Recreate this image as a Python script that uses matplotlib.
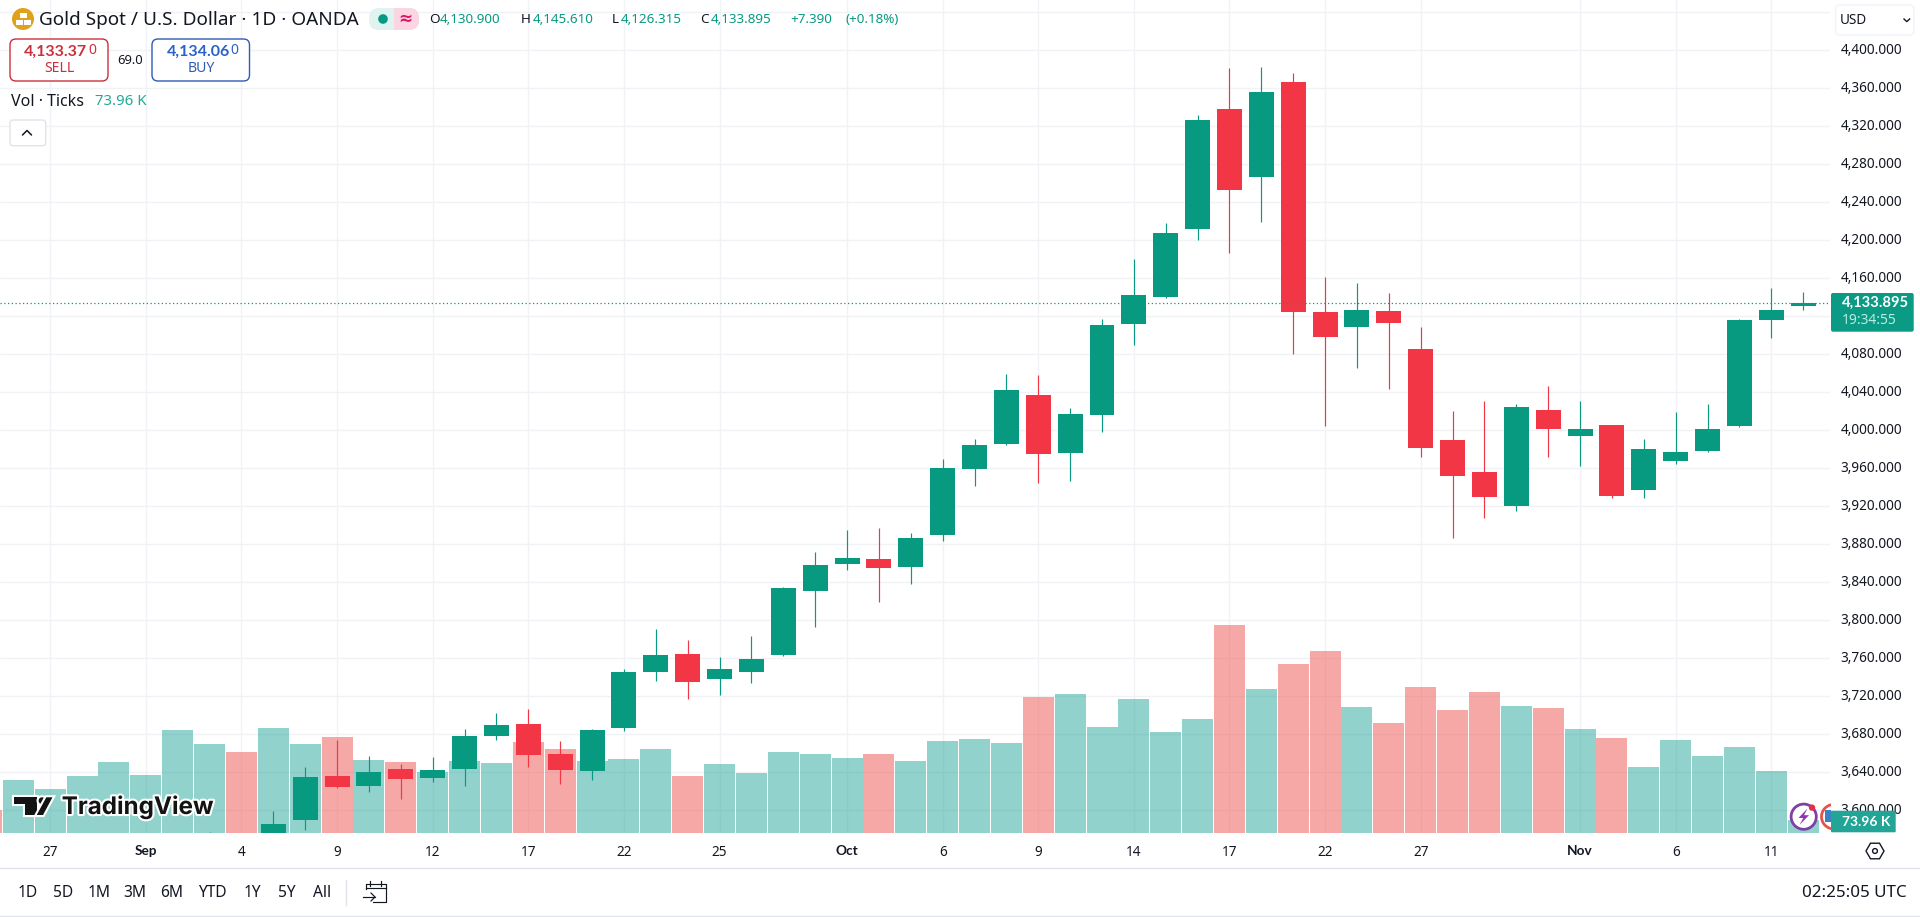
import math
import matplotlib
matplotlib.use("Agg")
import matplotlib.pyplot as plt
import matplotlib.patheffects as pe
from matplotlib.patches import FancyBboxPatch, Circle, Rectangle, Polygon, RegularPolygon
from matplotlib.transforms import ScaledTranslation

plt.rcParams['font.family'] = ['Noto Sans', 'DejaVu Sans']
BOLD = ['Lato', 'DejaVu Sans']

GREEN, RED = '#089981', '#F23645'
VOL_GREEN, VOL_RED = '#26A69A', '#EF5350'
GRID = '#F0F2F5'
INK = '#131722'

# Volume bars, in thousands of ticks; the first bar is cut by the left edge (session -1).
volume_k = [132, 307, 254, 330, 411, 336, 598, 516, 470, 609, 516, 557, 423, 411, 353, 417, 406,
            528, 487, 417, 429, 487, 330, 400, 347, 470, 458, 435, 458, 417, 534, 545, 522, 790,
            807, 615, 778, 586, 662, 1209, 836, 982, 1057, 732, 638, 848, 714, 819, 737, 726,
            604, 551, 382, 540, 446, 499, 359, 73.96]
down_sessions = [-1, 7, 10, 12, 16, 17, 21, 27, 32, 38, 40, 41, 43, 44, 45, 46, 48, 50]

# Candles for sessions 6..56 (earlier ones fall below the visible price range).
first_candle = 6
opens = [3540, 3545, 3570, 3589.4, 3635.8, 3625.2, 3643.1, 3633.7, 3643.1, 3677.9, 3690.5, 3659.0,
         3641.0, 3686.3, 3745.3, 3764.2, 3737.9, 3745.3, 3763.2, 3830.6, 3859.0, 3864.3, 3855.9,
         3889.5, 3959.0, 3985.4, 4037.0, 3975.9, 4015.9, 4111.7, 4140.2, 4211.7, 4338.1, 4266.5,
         4366.5, 4124.3, 4108.6, 4125.4, 4085.4, 3989.6, 3955.9, 3920.1, 4021.2, 3993.8, 4005.4,
         3936.9, 3967.4, 3978.0, 4004.3, 4115.9, 4130.900]
highs = [3576.8, 3570, 3599.2, 3645.6, 3673.7, 3656.8, 3648.4, 3655.8, 3684.9, 3702.1, 3706.3, 3672.6,
         3685.2, 3748.4, 3790.5, 3779.0, 3761.0, 3783.2, 3834.8, 3871.6, 3894.8, 3896.9, 3891.7,
         3969.6, 3990.6, 4059.0, 4058.0, 4023.3, 4117.0, 4180.2, 4218.1, 4331.8, 4381.3, 4382.3,
         4376.0, 4161.2, 4154.9, 4144.4, 4108.6, 4020.1, 4030.6, 4027.5, 4046.5, 4030.6, 4005.4,
         3990.6, 4019.1, 4027.5, 4117.0, 4149.6, 4145.610]
lows = [3530, 3535, 3560, 3578.9, 3623.1, 3618.9, 3611.5, 3629.5, 3625.2, 3673.7, 3645.2, 3627.3,
        3631.5, 3683.1, 3735.8, 3716.8, 3721.0, 3733.7, 3762.1, 3792.7, 3852.7, 3819.0, 3838.0,
        3883.2, 3941.2, 3984.3, 3944.3, 3946.4, 3998.0, 4089.6, 4139.1, 4200.2, 4186.5, 4219.1,
        4080.1, 4004.3, 4065.4, 4043.3, 3971.7, 3886.4, 3907.5, 3914.8, 3971.7, 3962.2, 3928.5,
        3928.5, 3964.3, 3977.0, 4003.3, 4097.0, 4126.315]
closes = [3560, 3555, 3585.2, 3634.7, 3624.2, 3640.0, 3632.6, 3642.1, 3677.9, 3689.5, 3657.9, 3642.1,
          3684.2, 3745.3, 3763.2, 3734.7, 3748.4, 3759.0, 3833.7, 3858.0, 3865.3, 3854.8, 3886.4,
          3960.1, 3984.3, 4042.2, 3974.8, 4016.9, 4110.7, 4142.3, 4207.5, 4326.5, 4252.8, 4356.0,
          4124.3, 4098.0, 4126.5, 4112.8, 3981.2, 3951.7, 3929.6, 4024.3, 4001.2, 4001.2, 3930.6,
          3980.1, 3977.0, 4001.2, 4115.9, 4126.5, 4133.895]
last_price = 4133.895

price_ticks = list(range(3600, 4401, 40))
price_tick_hidden = [4120]
price_grid_extra = [4440]
date_sessions = [1, 4, 7, 10, 13, 16, 19, 22, 26, 29, 32, 35, 38, 41, 44, 49, 52, 55]
date_labels = ['27', 'Sep', '4', '9', '12', '17', '22', '25', 'Oct', '6', '9', '14', '17', '22', '27', 'Nov', '6', '11']
month_labels = ['Sep', 'Oct', 'Nov']
range_buttons = ['1D', '5D', '1M', '3M', '6M', 'YTD', '1Y', '5Y', 'All']
range_button_x = [27.7, 62.7, 98.7, 135, 171.7, 212.7, 252.7, 286.7, 321.7]

W, H = 1920, 917
fig = plt.figure(figsize=(W / 100, H / 100), dpi=100, facecolor='white')
rect = [0, (H - 833) / H, 1830 / W, 833 / H]
XLIM = (-0.574, 56.84)
YLIM = (3575.7, 4452.86)
VOL_TOP = 833 * 5.82

# --- volume pane (bottom layer), carries grid and time axis
ax_v = fig.add_axes(rect, zorder=1)
ax_v.set_xlim(*XLIM)
ax_v.set_ylim(0, VOL_TOP)
ax_v.set_yticks([])
for s in ax_v.spines.values():
    s.set_visible(False)
ax_v.set_xticks(date_sessions, date_labels)
ax_v.tick_params(axis='x', length=0, pad=8.8, labelsize=9.8, labelcolor=INK)
for lab in ax_v.get_xticklabels():
    if lab.get_text() in month_labels:
        lab.set_fontweight('bold')
        lab.set_family(BOLD)
ax_v.grid(axis='x', color=GRID, lw=1)
ax_v.set_axisbelow(True)
sessions = list(range(-1, len(volume_k) - 1))
ax_v.bar(sessions, volume_k, width=0.9725,
         color=[VOL_RED if s in down_sessions else VOL_GREEN for s in sessions],
         alpha=0.5, linewidth=0, zorder=2)

# --- price pane
ax = fig.add_axes(rect, zorder=2)
ax.patch.set_alpha(0)
ax.set_xlim(*XLIM)
ax.set_ylim(*YLIM)
ax.set_xticks([])
for s in ax.spines.values():
    s.set_visible(False)
ax.yaxis.tick_right()
ax.set_yticks(price_ticks, ['' if p in price_tick_hidden else f'{p:,.3f}' for p in price_ticks])
ax.tick_params(axis='y', length=0, pad=7.6, labelsize=9.8, labelcolor=INK)
off = ScaledTranslation(0, 1.5 / 100, fig.dpi_scale_trans)
for lab in ax.get_yticklabels():
    lab.set_transform(lab.get_transform() + off)
ax_v.hlines(price_ticks + price_grid_extra, 0, 1, color=GRID, lw=1,
            transform=ax.get_yaxis_transform(), zorder=1)

xs = [first_candle + i for i in range(len(opens))]
colors = [GREEN if c >= o else RED for o, c in zip(opens, closes)]
ax.vlines(xs, lows, highs, colors=colors, lw=0.85, zorder=3)
ax.bar(xs, [abs(c - o) for o, c in zip(opens, closes)],
       bottom=[min(o, c) for o, c in zip(opens, closes)],
       width=0.784, color=colors, linewidth=0, zorder=4)
ax.axhline(last_price, color=GREEN, lw=0.9, ls=(0, (1, 2)), zorder=5)

# --- overlay in pixel coordinates for the TradingView interface furniture
ui = fig.add_axes([0, 0, 1, 1], zorder=5)
ui.set_xlim(0, W)
ui.set_ylim(H, 0)
ui.axis('off')
ui.patch.set_alpha(0)


def px(v):
    return v * 0.72


def T(x, y, s, size=13, color=INK, ha='left', weight='normal', **kw):
    if weight == 'bold' and 'family' not in kw:
        kw['family'] = BOLD
    return ui.text(x, y, s, fontsize=px(size), color=color, ha=ha, va='center', fontweight=weight, **kw)


def box(x0, y0, x1, y1, ec, fc='white', r=5, lw=1):
    p = FancyBboxPatch((x0 + r, y0 + r), x1 - x0 - 2 * r, y1 - y0 - 2 * r,
                       boxstyle=f'round,pad={r},rounding_size={r}', ec=ec, fc=fc, lw=lw)
    ui.add_patch(p)


# header
ui.add_patch(Circle((23, 19), 11, color='#E0A21B', lw=0))
ui.add_patch(Rectangle((19.5, 12.5), 7, 5, color='white', lw=0))
ui.add_patch(Rectangle((15.5, 19.5), 7, 5, color='white', lw=0))
ui.add_patch(Rectangle((23.5, 19.5), 7, 5, color='white', lw=0))
T(39, 20, 'Gold Spot / U.S. Dollar · 1D · OANDA', size=19, color=INK)
box(369, 8, 419, 30, '#DFF3F0', fc='#DFF3F0', r=10, lw=0)
box(399, 8, 419, 30, '#FBD5E2', fc='#FBD5E2', r=10, lw=0)
ui.add_patch(Rectangle((394, 8), 12, 22, color='#FBD5E2', lw=0))
ui.add_patch(Circle((383, 19), 4.8, color=GREEN, lw=0))
T(405, 19, '≈', size=17, color='#D81B60', ha='center', weight='bold', family=['DejaVu Sans'])

OHLC_G = '#089981'
for x, s, c in [(429, 'O', INK), (440, '4,130.900', OHLC_G), (520.7, 'H', INK), (532.7, '4,145.610', OHLC_G),
                (612, 'L', INK), (621, '4,126.315', OHLC_G), (700, 'C', INK), (711, '4,133.895', OHLC_G),
                (790.7, '+7.390', OHLC_G), (845, '(+0.18%)', OHLC_G)]:
    T(x, 19.7, s, size=13.4, color=c)

# sell / buy
box(10, 39, 108, 81, '#CC2F3C', r=6)
T(23.7, 52, '4,133.37', size=16, color='#CC2F3C', weight='bold')
T(88.5, 51, '0', size=14, color='#CC2F3C')
T(59, 69, 'SELL', size=14, color='#CC2F3C', ha='center')
T(130.6, 60, '69.0', size=13, color=INK, ha='center')
box(152, 39, 249.5, 81, '#2F5BB7', r=6)
T(166.5, 52, '4,134.06', size=16, color='#2962C8', weight='bold')
T(230, 51, '0', size=14, color='#2962C8')
T(201, 69, 'BUY', size=14, color='#2F5BB7', ha='center')

T(11, 101.7, 'Vol · Ticks', size=16, color=INK)
T(95, 101.7, '73.96 K', size=15, color='#22AB94')

box(10, 120, 45.7, 145.7, '#E0E3EB', r=3)
ui.plot([22.5, 27, 31.5], [135, 130.5, 135], color=INK, lw=1.1, solid_capstyle='round')

# currency selector
box(1835.7, 5, 1914, 35, '#F0F3FA', r=4)
T(1840, 20.7, 'USD', size=13.5, color=INK)
ui.plot([1904, 1906.8, 1909.6], [19, 21.6, 19], color=INK, lw=1)

# last price and volume tags
box(1831, 293, 1913.7, 331.7, GREEN, fc='#0B9A83', r=2, lw=0)
T(1841.5, 302.7, '4,133.895', size=14.8, color='white', weight='bold')
T(1841.5, 320.2, '19:34:55', size=13.8, color='#B9EDE2')

# chart widgets near the bottom edge
clip_icon = Rectangle((1815, 800), 15.5, 40, transform=ui.transData)
ui.add_patch(Circle((1833.7, 816.7), 12.2, fc='white', ec='#E5534B', lw=2))
ui.patches[-1].set_clip_path(clip_icon)
ui.add_patch(Rectangle((1825, 810), 5.5, 12, color='#3B82C4', lw=0))
ui.add_patch(Circle((1803.7, 816.7), 12.6, fc='white', ec='#7E3FA8', lw=2))
ui.add_patch(Polygon([(1807.5, 808.5), (1798.5, 818), (1803.3, 818), (1799.5, 825), (1809, 815.2), (1804, 815.2)],
                     closed=True, color='#8E35B5', lw=0))
ui.add_patch(Circle((1812, 807.6), 3.2, color='#E5303F', lw=0))
box(1831, 810.7, 1895.7, 832.3, '#22AB94', fc='#22A596', r=1, lw=0)
T(1842, 821.5, '73.96 K', size=13.8, color='white', weight='bold')

# TradingView logo
halo = [pe.withStroke(linewidth=3, foreground='white')]
logo_k = '#131313'
for shape in [Polygon([(14, 797.3), (36.7, 797.3), (36.7, 815), (25, 815), (25, 804), (14, 804)], closed=True),
              Circle((42, 800.7), 3.4),
              Polygon([(46.3, 797.3), (52.5, 797.3), (43, 815), (36.7, 815)], closed=True)]:
    shape.set(fc=logo_k, ec='none', path_effects=halo)
    ui.add_patch(shape)
T(61.7, 806.5, 'TradingView', size=24.2, color=logo_k, weight='bold', family=['Inter'], path_effects=halo)

# settings hexagon
ui.add_patch(RegularPolygon((1875, 851), 6, radius=9, orientation=math.pi / 2, fc='white', ec=INK, lw=1))
ui.add_patch(Circle((1875, 851), 2.4, fc='white', ec=INK, lw=1))

# bottom toolbar
ui.plot([0, W], [868, 868], color='#E0E3EB', lw=1)
ui.plot([0, W], [916, 916], color='#E0E3EB', lw=1)
ui.plot([345.7, 345.7], [880, 905], color='#E0E3EB', lw=1)
for x, s in zip(range_button_x, range_buttons):
    T(x, 893, s, size=15.5, ha='center', color=INK)
T(1906.7, 892.7, '02:25:05 UTC', size=17, ha='right', color=INK)

# calendar icon
ICON = dict(color=INK, lw=0.85)
ui.plot([366, 366, 385.5, 385.5, 373], [889, 883.5, 883.5, 902, 902], **ICON)
ui.plot([366, 385.5], [888, 888], **ICON)
ui.plot([370, 370], [881, 885.5], **ICON)
ui.plot([381, 381], [881, 885.5], **ICON)
ui.plot([363, 375], [897, 897], **ICON)
ui.plot([371, 375, 371], [893, 897, 901], **ICON)

fig.savefig('out.png', dpi=100, facecolor='white')
